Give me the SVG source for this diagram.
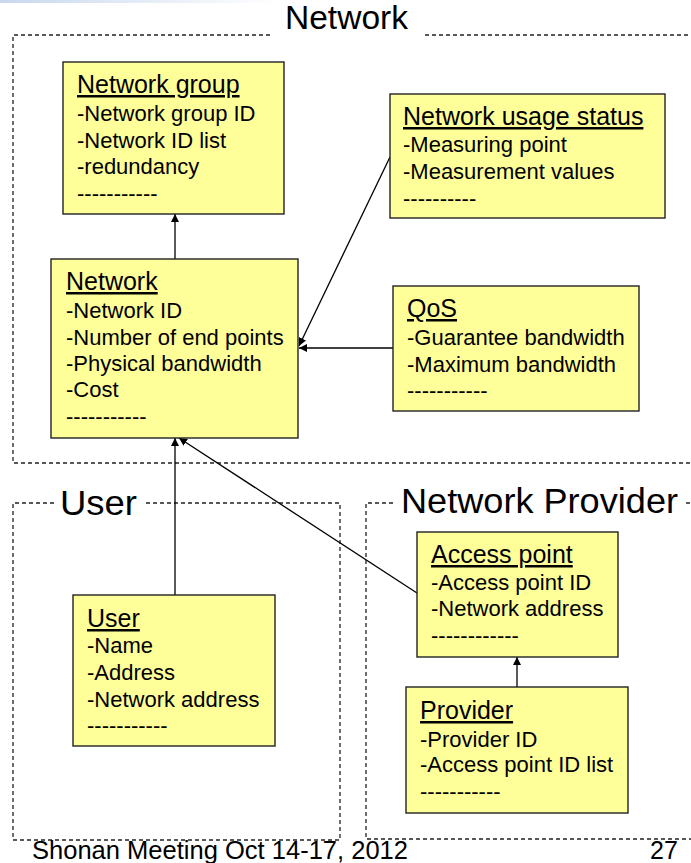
<svg xmlns="http://www.w3.org/2000/svg" width="691" height="863" viewBox="0 0 691 863">
<style>
text{font-family:"Liberation Sans",Arial,sans-serif;fill:#000}
.t{font-size:25px;text-decoration:underline}
.a{font-size:22px}
.box{fill:#FFFF99;stroke:#222;stroke-width:1.4}
.dash{fill:none;stroke:#222;stroke-width:1.3;stroke-dasharray:4,3}
.conn{stroke:#000;stroke-width:1.3;fill:none}
.big{font-size:33px}
.foot{font-size:25px}
</style>
<defs>
<linearGradient id="bar" x1="0" y1="0" x2="1" y2="0">
<stop offset="0" stop-color="#c9d8ee"/>
<stop offset="1" stop-color="#ffffff"/>
</linearGradient>
<marker id="arr" viewBox="0 0 10 10" refX="10" refY="5" markerWidth="8" markerHeight="8" markerUnits="userSpaceOnUse" orient="auto">
<path d="M0,0 L10,5 L0,10 z" fill="#000"/>
</marker>
</defs>
<rect width="691" height="863" fill="#fff"/>
<rect x="0" y="0" width="280" height="3" fill="url(#bar)"/>

<g id="containers">
<path class="dash" d="M270,35 H13 V463 H695 M425,35 H695"/>
<path class="dash" d="M54,503 H13 V840 H340 V503 H144"/>
<path class="dash" d="M393,503 H366 V839 H695 M686,503 H695"/>
<text class="big" x="285" y="29" textLength="123" lengthAdjust="spacingAndGlyphs">Network</text>
<text class="big" x="60" y="515" font-size="35" style="font-size:35px" textLength="77" lengthAdjust="spacingAndGlyphs">User</text>
<text class="big" x="401" y="513" style="font-size:35px" textLength="277" lengthAdjust="spacingAndGlyphs">Network Provider</text>
</g>

<g id="connectors">
<line class="conn" x1="175" y1="259" x2="175" y2="214" marker-end="url(#arr)"/>
<line class="conn" x1="390" y1="157" x2="299" y2="346" marker-end="url(#arr)"/>
<line class="conn" x1="393" y1="348" x2="299" y2="348" marker-end="url(#arr)"/>
<line class="conn" x1="175" y1="595" x2="175" y2="438" marker-end="url(#arr)"/>
<line class="conn" x1="417" y1="593" x2="179" y2="438" marker-end="url(#arr)"/>
<line class="conn" x1="517" y1="687" x2="517" y2="657" marker-end="url(#arr)"/>
</g>

<g id="network-group">
<rect class="box" x="63" y="62" width="221" height="152"/>
<text class="t" x="77" y="93">Network group</text>
<text class="a" x="77" y="121">-Network group ID</text>
<text class="a" x="77" y="148">-Network ID list</text>
<text class="a" x="77" y="174">-redundancy</text>
<text class="a" x="77" y="201">-----------</text>
</g>

<g id="network-usage-status">
<rect class="box" x="390" y="94" width="275" height="124"/>
<text class="t" x="403" y="125">Network usage status</text>
<text class="a" x="403" y="152">-Measuring point</text>
<text class="a" x="403" y="179">-Measurement values</text>
<text class="a" x="403" y="206">----------</text>
</g>

<g id="network">
<rect class="box" x="51" y="259" width="247" height="179"/>
<text class="t" x="66" y="290">Network</text>
<text class="a" x="66" y="318">-Network ID</text>
<text class="a" x="66" y="345">-Number of end points</text>
<text class="a" x="66" y="371">-Physical bandwidth</text>
<text class="a" x="66" y="397">-Cost</text>
<text class="a" x="66" y="424">-----------</text>
</g>

<g id="qos">
<rect class="box" x="393" y="286" width="246" height="125"/>
<text class="t" x="407" y="317">QoS</text>
<text class="a" x="407" y="345">-Guarantee bandwidth</text>
<text class="a" x="407" y="372">-Maximum bandwidth</text>
<text class="a" x="407" y="398">-----------</text>
</g>

<g id="user">
<rect class="box" x="73" y="595" width="202" height="151"/>
<text class="t" x="87" y="627">User</text>
<text class="a" x="87" y="653">-Name</text>
<text class="a" x="87" y="680">-Address</text>
<text class="a" x="87" y="707">-Network address</text>
<text class="a" x="87" y="733">-----------</text>
</g>

<g id="access-point">
<rect class="box" x="417" y="532" width="201" height="125"/>
<text class="t" x="431" y="563">Access point</text>
<text class="a" x="431" y="590">-Access point ID</text>
<text class="a" x="431" y="616">-Network address</text>
<text class="a" x="431" y="643">------------</text>
</g>

<g id="provider">
<rect class="box" x="406" y="687" width="222" height="126"/>
<text class="t" x="420" y="719">Provider</text>
<text class="a" x="420" y="747">-Provider ID</text>
<text class="a" x="420" y="772">-Access point ID list</text>
<text class="a" x="420" y="799">-----------</text>
</g>

<g id="footer">
<text class="foot" x="32" y="859" textLength="376" lengthAdjust="spacingAndGlyphs">Shonan Meeting Oct 14-17, 2012</text>
<text class="foot" x="650" y="859">27</text>
</g>
</svg>
